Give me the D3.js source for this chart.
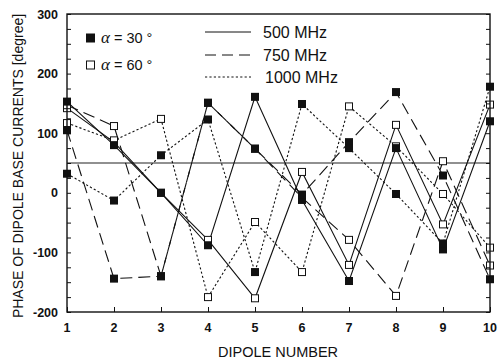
<!DOCTYPE html>
<html>
<head>
<meta charset="utf-8">
<script src="https://cdn.jsdelivr.net/npm/d3@7"></script>
<style>
  html, body { margin: 0; padding: 0; background: #fff; }
  svg { display: block; }
  text { font-family: "Liberation Sans", Arial, sans-serif; fill: #111; }
</style>
</head>
<body>
<svg id="chart" width="504" height="362"></svg>
<script>
// Dipole index along the array
const dipoles = [1, 2, 3, 4, 5, 6, 7, 8, 9, 10];

// Phase of the base current at each dipole [degree]
const phase500a30  = [153, 80, 0, -88, 161, -12, -148, 75, -95, 120];
const phase500a60  = [142, 85, 0, -79, -177, 35, -121, 114, -53, 148];
const phase750a30  = [105, -144, -140, 151, 74, -3, 85, 169, 29, -145];
const phase750a60  = [147, 112, -140, 151, 74, -8, -79, -173, 53, -122];
const phase1000a30 = [32, -13, 63, 123, -133, 149, 75, -2, -85, 178];
const phase1000a60 = [117, 88, 124, -175, -49, -133, 145, 78, -2, -92];

const yTicks = [-200, -100, 0, 100, 200, 300];
const referenceLevel = 50;

const freqLabels = ["500 MHz", "750 MHz", "1000 MHz"];
const alphaLabels = ["30", "60"];

const svg = d3.select("#chart");
const padL = 67, padR = 490, padT = 14, padB = 312;

const x = d3.scaleLinear().domain([1, 10]).range([padL, padR]);
const y = d3.scaleLinear().domain([-200, 300]).range([padB, padT]);

const dashFor = { "500 MHz": null, "750 MHz": "12,6", "1000 MHz": "2.2,2.2" };

const series = [
  { f: "500 MHz",  filled: true,  v: phase500a30 },
  { f: "500 MHz",  filled: false, v: phase500a60 },
  { f: "750 MHz",  filled: true,  v: phase750a30 },
  { f: "750 MHz",  filled: false, v: phase750a60 },
  { f: "1000 MHz", filled: true,  v: phase1000a30 },
  { f: "1000 MHz", filled: false, v: phase1000a60 }
];

// reference level line
svg.append("line")
  .attr("x1", padL).attr("x2", padR)
  .attr("y1", y(referenceLevel)).attr("y2", y(referenceLevel))
  .attr("stroke", "#222").attr("stroke-width", 1.1);

const line = d3.line().x((d, i) => x(dipoles[i])).y(d => y(d));

const g = svg.append("g");
series.forEach(s => {
  g.append("path")
    .attr("d", line(s.v))
    .attr("fill", "none")
    .attr("stroke", "#111")
    .attr("stroke-width", 1.1)
    .attr("stroke-dasharray", dashFor[s.f]);
});

// markers: open squares first, filled squares on top
series.filter(s => !s.filled).forEach(s => {
  g.selectAll(null).data(s.v).enter().append("rect")
    .attr("x", (d, i) => x(dipoles[i]) - 3.5)
    .attr("y", d => y(d) - 3.5)
    .attr("width", 7).attr("height", 7)
    .attr("fill", "#fff").attr("stroke", "#111").attr("stroke-width", 1);
});
series.filter(s => s.filled).forEach(s => {
  g.selectAll(null).data(s.v).enter().append("rect")
    .attr("x", (d, i) => x(dipoles[i]) - 4)
    .attr("y", d => y(d) - 4)
    .attr("width", 8).attr("height", 8)
    .attr("fill", "#111");
});

// frame
svg.append("rect")
  .attr("x", padL).attr("y", padT)
  .attr("width", padR - padL).attr("height", padB - padT)
  .attr("fill", "none").attr("stroke", "#111").attr("stroke-width", 1.4);

// inward ticks
const yAxisL = d3.axisLeft(y).tickValues(d3.range(-200, 301, 25)).tickSize(-4).tickFormat("");
svg.append("g").attr("transform", `translate(${padL},0)`).call(yAxisL)
  .call(a => a.select(".domain").remove())
  .selectAll("line").attr("stroke", "#111");
const yAxisR = d3.axisRight(y).tickValues(d3.range(-200, 301, 25)).tickSize(-4).tickFormat("");
svg.append("g").attr("transform", `translate(${padR},0)`).call(yAxisR)
  .call(a => a.select(".domain").remove())
  .selectAll("line").attr("stroke", "#111");
const xAxisB = d3.axisBottom(x).tickValues(dipoles).tickSize(-5).tickFormat("");
svg.append("g").attr("transform", `translate(0,${padB})`).call(xAxisB)
  .call(a => a.select(".domain").remove())
  .selectAll("line").attr("stroke", "#111");

// tick labels
svg.append("g").selectAll("text").data(yTicks).enter().append("text")
  .attr("x", padL - 9).attr("y", d => y(d) + 4.5)
  .attr("text-anchor", "end")
  .style("font-size", "12.5px").style("font-weight", "bold")
  .text(d => d);
svg.append("g").selectAll("text").data(dipoles).enter().append("text")
  .attr("x", d => x(d)).attr("y", padB + 20)
  .attr("text-anchor", "middle")
  .style("font-size", "12.5px").style("font-weight", "bold")
  .text(d => d);

// axis titles
svg.append("text")
  .attr("x", 278).attr("y", 357)
  .attr("text-anchor", "middle")
  .style("font-size", "14.5px")
  .text("DIPOLE NUMBER");
svg.append("text")
  .attr("transform", `translate(23,166) rotate(-90)`)
  .attr("text-anchor", "middle")
  .style("font-size", "14px")
  .text("PHASE OF DIPOLE BASE CURRENTS [degree]");

// legend: marker style per alpha
const alphaY = [38, 65];
alphaLabels.forEach((a, i) => {
  const cy = alphaY[i];
  if (i === 0) {
    svg.append("rect").attr("x", 86).attr("y", cy - 4.5).attr("width", 9).attr("height", 9).attr("fill", "#111");
  } else {
    svg.append("rect").attr("x", 86.5).attr("y", cy - 4).attr("width", 8).attr("height", 8)
      .attr("fill", "#fff").attr("stroke", "#111").attr("stroke-width", 1);
  }
  const t = svg.append("text").attr("x", 101).attr("y", cy + 5).style("font-size", "14.5px");
  t.append("tspan").style("font-family", "'Liberation Serif', serif").style("font-style", "italic").style("font-size", "17px").text("α");
  t.append("tspan").text(` = ${a} °`);
});

// legend: line style per frequency
const freqY = [32, 55, 77];
freqLabels.forEach((f, i) => {
  svg.append("line")
    .attr("x1", 205).attr("x2", 251)
    .attr("y1", freqY[i]).attr("y2", freqY[i])
    .attr("stroke", "#111").attr("stroke-width", 1)
    .attr("stroke-dasharray", f === "750 MHz" ? "11,6" : dashFor[f]);
  svg.append("text")
    .attr("x", i === 2 ? 265 : 263).attr("y", freqY[i] + 6)
    .style("font-size", "16px")
    .text(f);
});
</script>
</body>
</html>
